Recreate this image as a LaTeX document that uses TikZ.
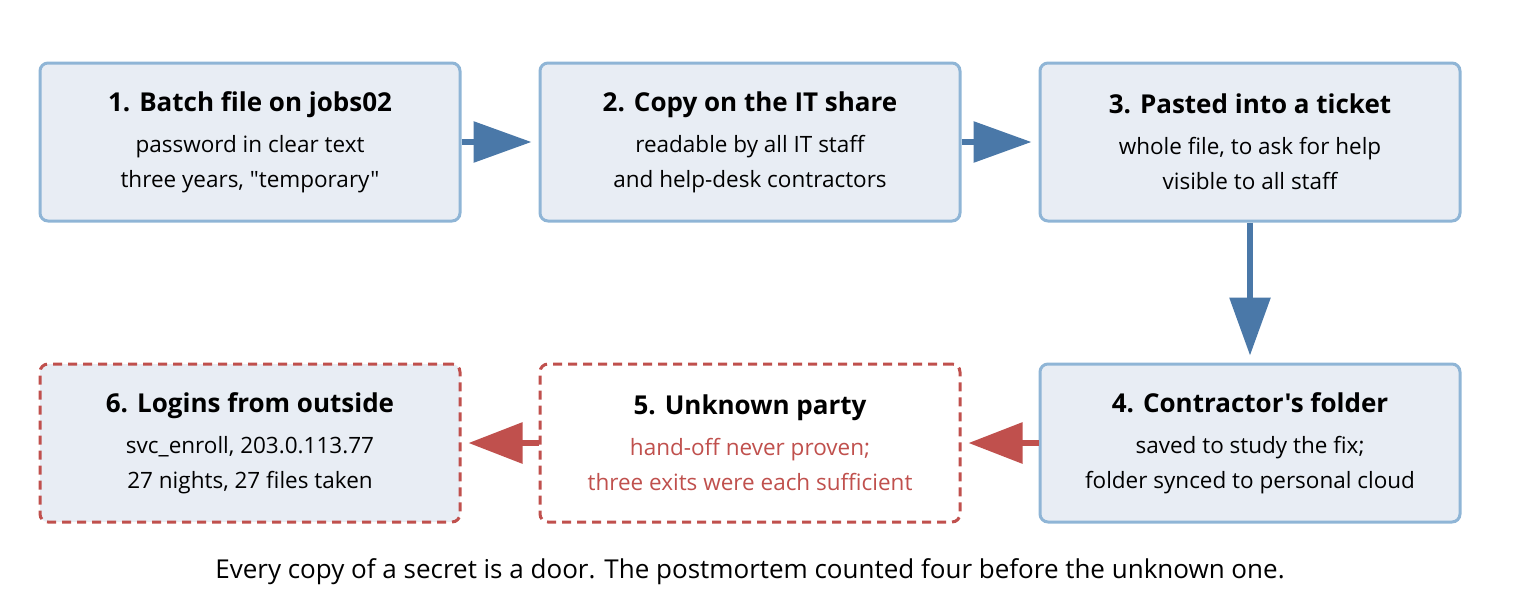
\documentclass[tikz,border=0pt]{standalone}
\usepackage{fontspec}
\setmainfont{Open Sans}[Ligatures=TeXOff]
\usetikzlibrary{arrows.meta}
\definecolor{bfill}{HTML}{E8EDF4}
\definecolor{bline}{HTML}{8FB5D6}
\definecolor{arr}{HTML}{4A78A8}
\definecolor{red}{HTML}{C0504D}
\newcommand{\ttl}[1]{{\fontsize{26}{32}\selectfont\bfseries #1}\\[6pt]}
\begin{document}
\begin{tikzpicture}[x=1pt,y=-1pt,
 box/.style={draw=bline,fill=bfill,line width=3pt,rounded corners=8pt,minimum width=420pt,minimum height=158pt,align=center,inner sep=0pt,font=\fontsize{22.5}{35}\selectfont},
 rbox/.style={box,draw=red,dash pattern=on 9pt off 6pt},
 ar/.style={draw=arr,line width=6pt,-{Triangle[length=58pt,width=40pt]},shorten >=7pt},
 rar/.style={ar,draw=red,fill=red,-{Triangle[length=54pt,width=40pt]}}]
\useasboundingbox (0,0) rectangle (1520,600);
\node[box] (b1) at (250,142) {\ttl{1. Batch file on jobs02}password in clear text\\three years, "temporary"};
\node[box] (b2) at (750,142) {\ttl{2. Copy on the IT share}readable by all IT staff\\and help-desk contractors};
\node[box] (b3) at (1250,142) {\ttl{3. Pasted into a ticket}whole file, to ask for help\\visible to all staff};
\node[box] (b4) at (1250,443) {\ttl{4. Contractor's folder}saved to study the fix;\\folder synced to personal cloud};
\node[rbox,fill=white] (b5) at (750,443) {\ttl{5. Unknown party}\textcolor{red}{hand-off never proven;}\\\textcolor{red}{three exits were each sufficient}};
\node[rbox] (b6) at (250,443) {\ttl{6. Logins from outside}svc\_enroll, 203.0.113.77\\27 nights, 27 files taken};
\draw[ar,fill=arr] (b1) -- (b2);
\draw[ar,fill=arr] (b2) -- (b3);
\draw[ar,fill=arr] (b3) -- (b4);
\draw[rar] (b4) -- (b5);
\draw[rar] (b5) -- (b6);
\node[font=\fontsize{26}{30}\selectfont] (cap) at (750,572) {Every copy of a secret is a door. The postmortem counted four before the unknown one.};
\end{tikzpicture}
\end{document}
